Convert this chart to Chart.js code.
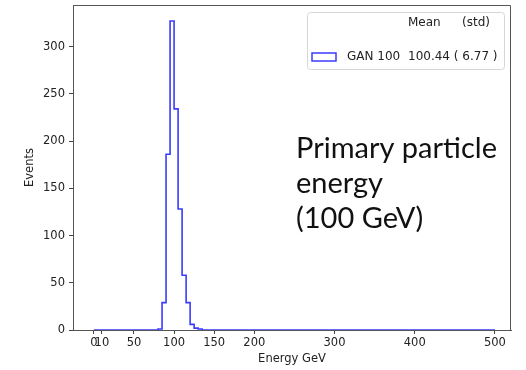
<!DOCTYPE html>
<html>
<head>
<meta charset="utf-8">
<script src="https://cdn.jsdelivr.net/npm/chart.js@4.4.1/dist/chart.umd.min.js"></script>
<style>
html, body { margin: 0; padding: 0; background: #fff; }
</style>
</head>
<body>
<canvas id="energy-chart" width="526" height="370"></canvas>
<script>
// histogram of generated energies, 5 GeV bins over 0..500, only non-empty bins listed
const histRange = [0, 500];
const binWidth = 5;
const binLow = [80, 85, 90, 95, 100, 105, 110, 115, 120, 125, 130];
const counts = [1, 29, 186, 327, 234, 128, 58, 29, 6, 2, 1];

const xTicks = [0, 10, 50, 100, 150, 200, 300, 400, 500];
const yTicks = [0, 50, 100, 150, 200, 250, 300];

const legendHeader = ['Mean', '(std)'];
const legendName = 'GAN 100';
const legendStats = '100.44 ( 6.77 )';
const noteLines = ['Primary particle', 'energy', '(100 GeV)'];

const lineColor = '#3b3bff';
const axisFont = { family: 'DejaVu Sans', size: 11.5 };

// step outline points: value held from a bin's low edge to the next edge
const stepPoints = [{ x: histRange[0], y: 0 }];
binLow.forEach((b, i) => stepPoints.push({ x: b, y: counts[i] }));
stepPoints.push({ x: binLow[binLow.length - 1] + binWidth, y: 0 });
stepPoints.push({ x: histRange[1], y: 0 });

const overlay = {
    id: 'overlay',
    afterDraw(chart) {
        const ctx = chart.ctx;
        const a = chart.chartArea;
        ctx.save();

        // top and right spines
        ctx.strokeStyle = '#555';
        ctx.lineWidth = 1;
        ctx.beginPath();
        ctx.moveTo(a.left, a.top + 0.5);
        ctx.lineTo(a.right - 0.5, a.top + 0.5);
        ctx.lineTo(a.right - 0.5, a.bottom);
        ctx.stroke();

        // legend box
        const bx = a.left + 234, by = a.top + 7, bw = 197, bh = 57;
        ctx.fillStyle = 'rgba(255,255,255,0.8)';
        ctx.strokeStyle = '#d6d6d6';
        ctx.beginPath();
        ctx.roundRect(bx + 0.5, by + 0.5, bw, bh, 3);
        ctx.fill();
        ctx.stroke();

        ctx.font = '12px "DejaVu Sans"';
        ctx.fillStyle = '#222';
        ctx.textBaseline = 'middle';
        ctx.textAlign = 'left';
        ctx.fillText(legendHeader[0], bx + 101, by + 11);
        ctx.fillText(legendHeader[1], bx + 155, by + 11);
        ctx.fillText(legendName, bx + 40, by + 45);
        ctx.fillText(legendStats, bx + 101, by + 45);

        ctx.strokeStyle = lineColor;
        ctx.lineWidth = 1.5;
        ctx.strokeRect(bx + 5, by + 41, 24, 8);

        // annotation
        ctx.fillStyle = '#111';
        ctx.textBaseline = 'alphabetic';
        ctx.font = '29px Lato';
        ctx.fillText(noteLines[0], 296, 158);
        ctx.fillText(noteLines[1], 296, 193);
        ctx.fillText(noteLines[2], 296, 228);
        ctx.restore();
    }
};

new Chart(document.getElementById('energy-chart'), {
    type: 'line',
    data: {
        datasets: [{
            data: stepPoints,
            borderColor: lineColor,
            borderWidth: 1.6,
            pointRadius: 0,
            stepped: true,
            fill: false
        }]
    },
    options: {
        responsive: false,
        animation: false,
        layout: { padding: { top: 5, right: 15, left: 0, bottom: 0 } },
        plugins: { legend: { display: false }, tooltip: { enabled: false } },
        scales: {
            x: {
                type: 'linear',
                min: -26,
                max: 520,
                afterBuildTicks: s => { s.ticks = xTicks.map(v => ({ value: v })); },
                afterFit: s => { s.height = 40; s.paddingLeft = 0; s.paddingRight = 0; },
                ticks: { autoSkip: false, maxRotation: 0, font: axisFont, color: '#222', padding: 2 },
                grid: { drawOnChartArea: false, tickLength: 4, color: '#444' },
                border: { color: '#555' },
                title: { display: true, text: 'Energy GeV', font: axisFont, color: '#222', padding: { top: 6 } }
            },
            y: {
                min: 0,
                max: 344,
                afterBuildTicks: s => { s.ticks = yTicks.map(v => ({ value: v })); },
                afterFit: s => { s.width = 73; s.paddingTop = 0; s.paddingBottom = 0; },
                ticks: { font: axisFont, color: '#222', padding: 4 },
                grid: { drawOnChartArea: false, tickLength: 4, color: '#444' },
                border: { color: '#555' },
                title: { display: true, text: 'Events', font: axisFont, color: '#222', padding: { top: 23 } }
            }
        }
    },
    plugins: [overlay]
});
</script>
</body>
</html>
